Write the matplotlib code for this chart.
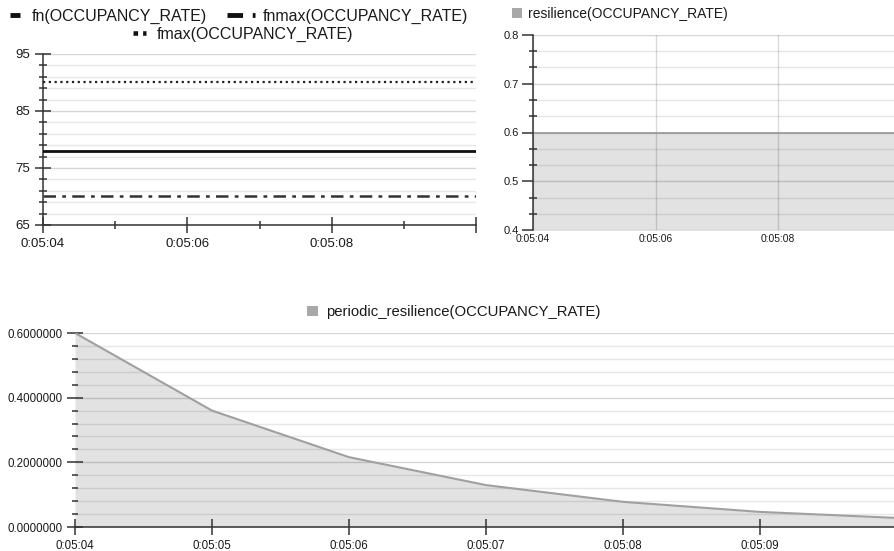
import matplotlib
matplotlib.use("Agg")
import matplotlib.pyplot as plt
from matplotlib.lines import Line2D
from matplotlib.patches import Patch
from matplotlib.ticker import FixedLocator, FuncFormatter

plt.rcParams['font.family'] = ['Liberation Sans', 'DejaVu Sans']

# ---------------- data ----------------
times_top = ["0:05:04", "0:05:10"]
fn_values = [78, 78]
fnmax_values = [70, 70]
fmax_values = [90, 90]

times_res = ["0:05:04", "0:05:06", "0:05:08", "0:05:10"]
resilience_values = [0.6, 0.6, 0.6, 0.6]

times_periodic = ["0:05:04", "0:05:05", "0:05:06", "0:05:07", "0:05:08", "0:05:09", "0:05:10"]
periodic_values = [0.6, 0.36, 0.216, 0.1296, 0.0778, 0.0467, 0.028]

top_left_xticks = ["0:05:04", "0:05:06", "0:05:08", "0:05:10"]
top_right_xticks = ["0:05:04", "0:05:06", "0:05:08"]
bottom_xticks = ["0:05:04", "0:05:05", "0:05:06", "0:05:07", "0:05:08", "0:05:09"]


def secs(t):
    h, m, s = t.split(":")
    return int(h) * 3600 + int(m) * 60 + int(s)


def fmt_time(v, pos=None):
    v = int(round(v))
    return f"{v // 3600}:{(v % 3600) // 60:02d}:{v % 60:02d}"


W, H = 894, 551
fig = plt.figure(figsize=(W / 100, H / 100), dpi=100)
fig.patch.set_facecolor("white")


def px_axes(x0, y0, x1, y1):
    return fig.add_axes([x0 / W, 1 - y1 / H, (x1 - x0) / W, (y1 - y0) / H])


AX_COL = "#333333"
A_MINOR = 0.095
A_MAJOR = 0.16
FILL = "#e2e2e2"
LINE = "#a0a0a0"


def grids(ax):
    ax.grid(True, axis="y", which="minor", color="black", alpha=A_MINOR, lw=1.0)
    ax.grid(True, axis="y", which="major", color="black", alpha=A_MAJOR, lw=1.0)


# ---------------- top-left ----------------
ax1 = px_axes(43, 54, 476, 225)
xt = [secs(t) for t in times_top]
ax1.plot(xt, fmax_values, color="#222222", lw=1.6, linestyle=(0, (1, 1.6)), zorder=3)
ax1.plot(xt, fn_values, color="#111111", lw=2.0, linestyle="-", zorder=3)
ax1.plot(xt, fnmax_values, color="#333333", lw=1.8, linestyle=(0, (5, 2.5, 1.5, 2.5)), zorder=3)
ax1.set_xlim(secs("0:05:04"), secs("0:05:10"))
ax1.set_ylim(65, 95)
ax1.yaxis.set_major_locator(FixedLocator([65, 75, 85, 95]))
ax1.yaxis.set_minor_locator(FixedLocator([y for y in range(65, 96) if y % 2 == 1 and y % 10 != 5]))
ax1.xaxis.set_major_locator(FixedLocator([secs(t) for t in top_left_xticks]))
ax1.xaxis.set_minor_locator(FixedLocator([secs("0:05:05"), secs("0:05:07"), secs("0:05:09")]))
ax1.xaxis.set_major_formatter(FuncFormatter(lambda v, p: "" if fmt_time(v) == "0:05:10" else fmt_time(v)))
ax1.tick_params(axis="both", which="major", direction="inout", length=11, width=1.1,
                color=AX_COL, labelsize=9.5, labelcolor="#1a1a1a")
ax1.tick_params(axis="both", which="minor", direction="inout", length=6, width=1.1, color=AX_COL)
ax1.tick_params(axis="x", which="major", pad=4)
grids(ax1)
ax1.set_axisbelow(True)
for s in ("top", "right"):
    ax1.spines[s].set_visible(False)
for s in ("left", "bottom"):
    ax1.spines[s].set_color(AX_COL)
    ax1.spines[s].set_linewidth(1.1)

LEG_FS = 11.5


def px_legend(handle, label, x_px, y_px, fs, hl, hh=0.7, pad=0.55):
    leg = fig.legend([handle], [label], loc="center left",
                     bbox_to_anchor=(x_px / W, 1 - y_px / H),
                     frameon=False, fontsize=fs, handlelength=hl, handleheight=hh,
                     handletextpad=pad, borderpad=0, borderaxespad=0)
    for t in leg.get_texts():
        t.set_color("#1a1a1a")
    return leg


px_legend(Line2D([], [], color="#111111", lw=3.5, solid_capstyle="butt"),
          "fn(OCCUPANCY_RATE)", 10, 16, LEG_FS, hl=0.65, pad=0.7)
px_legend(Line2D([], [], color="#111111", lw=3.5, linestyle=(0, (3.2, 2.0, 1.2, 5)),
                 dash_capstyle="butt"),
          "fnmax(OCCUPANCY_RATE)", 227, 16, LEG_FS, hl=1.75, pad=0.5)
px_legend(Line2D([], [], color="#111111", lw=3.3, linestyle=(0, (1, 1.1)), dash_capstyle="butt"),
          "fmax(OCCUPANCY_RATE)", 133, 34, LEG_FS, hl=0.82, pad=0.65)

# ---------------- top-right ----------------
ax2 = px_axes(533, 35, 894, 230)
xr = [secs(t) for t in times_res]
ax2.fill_between(xr, 0, resilience_values, color=FILL, lw=0, zorder=1)
ax2.plot(xr, resilience_values, color=LINE, lw=1.4, zorder=3)
ax2.set_xlim(secs("0:05:04"), secs("0:05:04") + (894 - 533) / 61.25)
ax2.set_ylim(0.4, 0.8)
ax2.yaxis.set_major_locator(FixedLocator([0.4, 0.5, 0.6, 0.7, 0.8]))
ax2.yaxis.set_major_formatter(FuncFormatter(lambda v, p: f"{v:.1f}"))
minors = []
for k in range(4):
    base = 0.4 + 0.1 * k
    minors += [base + 0.1 / 3, base + 0.2 / 3]
ax2.yaxis.set_minor_locator(FixedLocator(minors))
ax2.xaxis.set_major_locator(FixedLocator([secs(t) for t in top_right_xticks]))
ax2.xaxis.set_major_formatter(FuncFormatter(fmt_time))
ax2.tick_params(axis="y", which="major", direction="out", length=8, width=1.1,
                color=AX_COL, labelsize=8, labelcolor="#1a1a1a", pad=2)
ax2.tick_params(axis="y", which="minor", direction="inout", length=6, width=1.1, color=AX_COL)
ax2.tick_params(axis="x", which="major", length=0, labelsize=7.4, labelcolor="#1a1a1a", pad=3)
grids(ax2)
ax2.grid(True, axis="x", which="major", color="black", alpha=0.15, lw=1.0)
ax2.set_axisbelow(False)
for s in ("top", "right", "bottom"):
    ax2.spines[s].set_visible(False)
ax2.spines["left"].set_color(AX_COL)
ax2.spines["left"].set_linewidth(1.1)
ax2.spines["left"].set_zorder(4)

px_legend(Patch(facecolor="#a8a8a8", edgecolor="none"), "resilience(OCCUPANCY_RATE)",
          512, 14, 10, hl=0.7, hh=0.7, pad=0.45)

# ---------------- bottom ----------------
ax3 = px_axes(75, 333, 894, 527)
xp = [secs(t) for t in times_periodic]
ax3.fill_between(xp, 0, periodic_values, color=FILL, lw=0, zorder=1)
ax3.plot(xp, periodic_values, color=LINE, lw=1.5, zorder=3)
ax3.set_xlim(secs("0:05:04"), secs("0:05:04") + (894 - 75) / 137.0)
ax3.set_ylim(0, 0.6)
ax3.yaxis.set_major_locator(FixedLocator([0.0, 0.2, 0.4, 0.6]))
ax3.yaxis.set_major_formatter(FuncFormatter(lambda v, p: f"{v:.7f}"))
ax3.yaxis.set_minor_locator(FixedLocator([0.04 * i for i in range(1, 15) if i % 5 != 0]))
ax3.xaxis.set_major_locator(FixedLocator([secs(t) for t in bottom_xticks]))
ax3.xaxis.set_major_formatter(FuncFormatter(fmt_time))
ax3.tick_params(axis="both", which="major", direction="inout", length=11, width=1.1,
                color=AX_COL, labelsize=8.3, labelcolor="#1a1a1a")
ax3.tick_params(axis="y", which="minor", direction="inout", length=5, width=1.1, color=AX_COL)
ax3.tick_params(axis="x", which="major", pad=4)
grids(ax3)
ax3.set_axisbelow(False)
for s in ("top", "right", "left"):
    ax3.spines[s].set_visible(False)
ax3.spines["bottom"].set_color(AX_COL)
ax3.spines["bottom"].set_linewidth(1.1)
ax3.spines["bottom"].set_zorder(4)

px_legend(Patch(facecolor="#a8a8a8", edgecolor="none"), "periodic_resilience(OCCUPANCY_RATE)",
          307, 312, 10.7, hl=0.72, hh=0.72, pad=0.55)

fig.savefig("out.png", dpi=100, facecolor="white")
